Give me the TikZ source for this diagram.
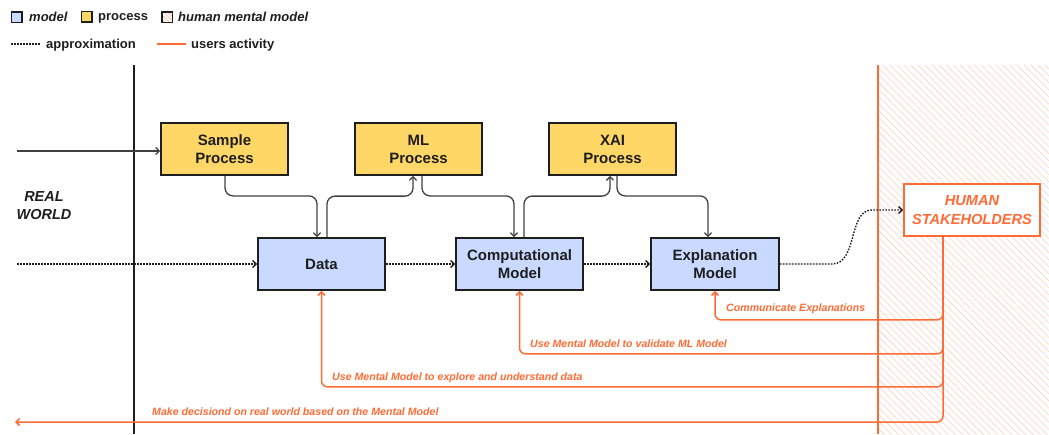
\documentclass[tikz,border=0pt]{standalone}
\usepackage{fontspec}
\setmainfont{Liberation Sans}
\usetikzlibrary{arrows.meta,patterns.meta,calc}
\definecolor{modelblue}{RGB}{201,217,255}
\definecolor{procyellow}{RGB}{255,215,102}
\definecolor{userorange}{RGB}{255,107,53}
\definecolor{ink}{RGB}{30,30,30}
\definecolor{hatchcol}{RGB}{255,205,188}
\begin{document}
\begin{tikzpicture}[x=1pt,y=-1pt,
  box/.style={draw=ink, line width=1.8pt, minimum width=127pt, minimum height=52pt,
    inner sep=0pt, align=center, font=\fontsize{15}{18}\selectfont\bfseries, text=ink},
  proc/.style={box, fill=procyellow},
  modl/.style={box, fill=modelblue},
  conn/.style={draw=ink!85, line width=1.3pt, rounded corners=8pt, -{Straight Barb[length=3.5pt,width=7pt]}},
  approx/.style={draw=ink, line width=1.4pt, dash pattern=on 1.6pt off 1.4pt, -{Straight Barb[length=3.5pt,width=7pt]}},
  approxplain/.style={draw=ink, line width=1.4pt, dash pattern=on 1.6pt off 1.4pt},
  user/.style={draw=userorange, line width=1.5pt, rounded corners=6pt, -{Straight Barb[length=3.5pt,width=7pt]}},
  userlbl/.style={anchor=west, inner sep=0pt, text=userorange, font=\fontsize{10.6}{12}\selectfont\bfseries\itshape},
  legsq/.style={draw=ink, line width=1.5pt, minimum size=10.5pt, inner sep=0pt},
  legtxt/.style={anchor=base west, inner sep=0pt, text=ink, font=\fontsize{13}{15}\selectfont\bfseries},
  hatchfill/.style={pattern={Lines[angle=-45,distance=5pt,line width=0.55pt]}, pattern color=hatchcol},
  hatchsmall/.style={pattern={Lines[angle=-45,distance=3pt,line width=0.6pt]}, pattern color=userorange!60}
]
\useasboundingbox (0,0) rectangle (1049,434);

% human mental model region
\path[hatchfill] (878,65) rectangle (1049,434);
\draw[userorange, line width=1.5pt] (878,65) -- (878,434);

% real world divider
\draw[ink, line width=2pt] (134,65) -- (134,434);

% legend
\node[legsq, fill=modelblue] (lm) at (16.5,17) {};
\node[legtxt, font=\fontsize{13}{15}\selectfont\bfseries\itshape] (lmt) at (29,21) {model};
\node[legsq, fill=procyellow] (lp) at (86.5,16.5) {};
\node[legtxt] (lpt) at (98,20) {process};
\path[hatchsmall] (161.5,11.5) rectangle (172.5,22.5);
\node[legsq] (lh) at (167,17) {};
\node[legtxt, font=\fontsize{13}{15}\selectfont\bfseries\itshape] (lht) at (178,21) {human mental model};
\coordinate (la1) at (11,44);
\coordinate (la2) at (40,44);
\draw[approxplain] (la1) -- (la2);
\node[legtxt] (lat) at (46,48) {approximation};
\coordinate (lu1) at (157,44);
\coordinate (lu2) at (186,44);
\draw[userorange, line width=1.5pt] (lu1) -- (lu2);
\node[legtxt] (lut) at (191,48) {users activity};

% real world
\node[align=center, text=ink, font=\fontsize{14.5}{18}\selectfont\bfseries\itshape] (rw) at (44,206) {REAL\\WORLD};

% nodes
\node[proc] (sp) at (224.5,149) {Sample\\Process};
\node[proc] (ml) at (418.5,149) {ML\\Process};
\node[proc] (xai) at (612.5,149) {XAI\\Process};
\node[modl] (data) at (321.5,264) {Data};
\node[modl] (comp) at (519.5,264) {Computational\\Model};
\node[modl, minimum width=128pt] (expl) at (715,264) {Explanation\\Model};
\node[draw=userorange, fill=white, line width=1.8pt, minimum width=136pt, minimum height=52pt, inner sep=0pt,
  align=center, text=userorange, font=\fontsize{14.6}{19}\selectfont\bfseries\itshape] (hs) at (972,210) {HUMAN\\STAKEHOLDERS};

% inputs from real world
\coordinate (in1) at (17,151);
\coordinate (in2) at (17,264);
\draw[conn] (in1) -- (sp.west |- in1);
\draw[approx] (in2) -- (data.west);

% approximation chain
\draw[approx] (data.east) -- (comp.west);
\draw[approx] (comp.east) -- (expl.west);
\draw[approx] (expl.east) -- ++(52,0) .. controls +(26,0) and +(-24,0) .. ++(40,-54) -- (hs.west);

% process connectors
\draw[conn] ([xshift=0.5pt]sp.south) -- ++(0,20) -| ([xshift=-4.5pt]data.north);
\draw[conn] ([xshift=5.5pt]data.north) -- ++(0,-41) -| ([xshift=-5.5pt]ml.south);
\draw[conn] ([xshift=3.5pt]ml.south) -- ++(0,20) -| ([xshift=-5.5pt]comp.north);
\draw[conn] ([xshift=4.5pt]comp.north) -- ++(0,-41) -| ([xshift=-2.5pt]xai.south);
\draw[conn] ([xshift=4.5pt]xai.south) -- ++(0,20) -| ([xshift=-7pt]expl.north);

% user activity
\coordinate (hsb) at ([xshift=-29pt]hs.south);
\coordinate (rwout) at (15,422);
\draw[user] (hsb) -- ++(0,83) -| (expl.south);
\draw[user] (hsb) -- ++(0,117) -| (comp.south);
\draw[user] (hsb) -- ++(0,150) -| (data.south);
\draw[user] (hsb) |- (rwout);

\node[userlbl] (l1) at (726,309) {Communicate Explanations};
\node[userlbl] (l2) at (530,343.5) {Use Mental Model to validate ML Model};
\node[userlbl] (l3) at (332,378) {Use Mental Model to explore and understand data};
\node[userlbl] (l4) at (152,412) {Make decisiond on real world based on the Mental Model};
\end{tikzpicture}
\end{document}
